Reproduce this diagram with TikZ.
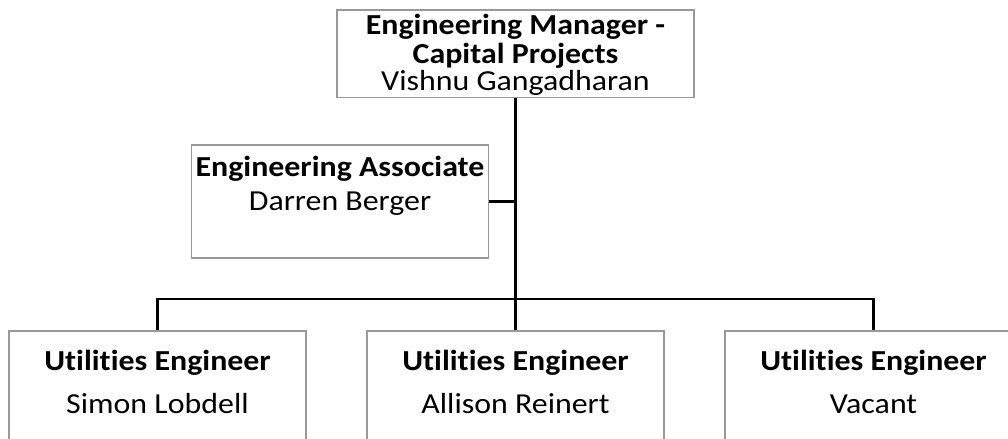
\documentclass[tikz,border=0pt]{standalone}
\usepackage{fontspec}
\setmainfont{Carlito}[Ligatures=NoCommon, FakeStretch=1.1]
\usetikzlibrary{positioning}

\begin{document}
\begin{tikzpicture}[
    x=0.5pt, y=-0.5pt,
    % Boxes of the chart
    postbox/.style={draw=black!40, line width=0.8pt, inner sep=0pt,
        minimum width=148.5pt, minimum height=56.5pt},
    % Text inside the boxes
    posttext/.style={align=center, inner sep=0pt, font=\fontsize{14.5}{14.5}\selectfont},
    % Reporting lines
    link/.style={draw=black, line width=1.4pt}
]
\clip (0,0) rectangle (1008,439);

% Manager
\node[postbox, minimum width=178.5pt, minimum height=43.75pt] (mgr) at (515.5,53.75) {};
\node[posttext, below=2.25pt of mgr.north] (mgr-text)
    {\textbf{Engineering Manager -}\\\textbf{Capital Projects}\\[-1pt]Vishnu Gangadharan};

% Associate (side branch)
\node[postbox] (assoc) at (340,201.5) {};
\node[posttext, below=5.75pt of assoc.north] (assoc-text)
    {\textbf{Engineering Associate}\\[2.5pt]Darren Berger};

% Engineers
\node[postbox] (eng1) at (157.5,387.5) {};
\node[postbox] (eng2) at (515.5,387.5) {};
\node[postbox] (eng3) at (873.5,387.5) {};
\node[posttext, below=10pt of eng1.north] (eng1-text)
    {\textbf{Utilities Engineer}\\[7pt]Simon Lobdell};
\node[posttext, below=10pt of eng2.north] (eng2-text)
    {\textbf{Utilities Engineer}\\[7pt]Allison Reinert};
\node[posttext, below=10pt of eng3.north] (eng3-text)
    {\textbf{Utilities Engineer}\\[7pt]Vacant};

% Lines
\coordinate (bus) at (515.5,299);
\draw[link] (mgr.south) -- (eng2.north);
\draw[link] (assoc.east) -- (assoc.east -| mgr.south);
\draw[link] (eng1.north) |- (bus) -| (eng3.north);

\end{tikzpicture}
\end{document}
